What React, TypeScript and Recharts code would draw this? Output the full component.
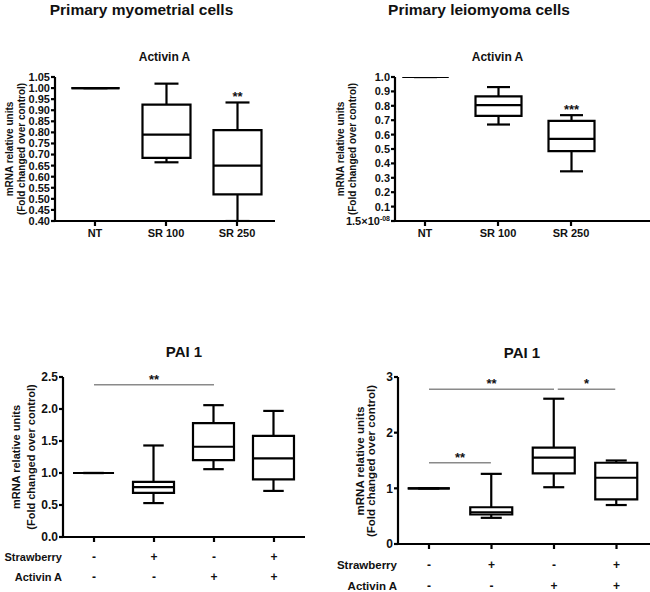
import React from 'react';
import { ComposedChart, Bar, XAxis, YAxis, ReferenceLine } from 'recharts';

const FONT = '"Liberation Sans", Arial, Helvetica, sans-serif';
const INK = '#111';

// Activin A - primary myometrial cells
const activinCats = ['NT', 'SR 100', 'SR 250'];
const myoMin = [1, 0.665, 0.4];
const myoQ1 = [1, 0.685, 0.52];
const myoMed = [1, 0.79, 0.65];
const myoQ3 = [1, 0.925, 0.81];
const myoMax = [1, 1.02, 0.935];
const myoSig = ['', '', '**'];
const myoTicks = [0.4, 0.45, 0.5, 0.55, 0.6, 0.65, 0.7, 0.75, 0.8, 0.85, 0.9, 0.95, 1.0, 1.05];

// Activin A - primary leiomyoma cells
const leioMin = [1, 0.67, 0.345];
const leioQ1 = [1, 0.73, 0.485];
const leioMed = [1, 0.805, 0.57];
const leioQ3 = [1, 0.865, 0.695];
const leioMax = [1, 0.93, 0.735];
const leioSig = ['', '', '***'];
const leioTicks = [0, 0.1, 0.2, 0.3, 0.4, 0.5, 0.6, 0.7, 0.8, 0.9, 1.0];

// PAI 1 - treatments
const strawberry = ['-', '+', '-', '+'];
const activinA = ['-', '-', '+', '+'];

const paiMyoMin = [1, 0.53, 1.06, 0.72];
const paiMyoQ1 = [1, 0.69, 1.2, 0.9];
const paiMyoMed = [1, 0.78, 1.41, 1.23];
const paiMyoQ3 = [1, 0.86, 1.78, 1.58];
const paiMyoMax = [1, 1.43, 2.06, 1.97];
const paiMyoTicks = [0, 0.5, 1, 1.5, 2, 2.5];
const paiMyoBrackets = [{ from: 0, to: 2, y: 2.38, label: '**' }];

const paiLeioMin = [1, 0.47, 1.02, 0.7];
const paiLeioQ1 = [1, 0.53, 1.27, 0.8];
const paiLeioMed = [1, 0.57, 1.55, 1.19];
const paiLeioQ3 = [1, 0.66, 1.73, 1.46];
const paiLeioMax = [1, 1.26, 2.61, 1.5];
const paiLeioTicks = [0, 1, 2, 3];
const paiLeioBrackets = [
  { from: 0, to: 2, y: 2.78, label: '**' },
  { from: 2.06, to: 2.98, y: 2.78, label: '*' },
  { from: 0, to: 0.99, y: 1.46, label: '**' },
];

const noSig = ['', '', '', ''];

type Row = { idx: number; min: number; q1: number; median: number; q3: number; max: number; sig: string };

const toRows = (mn: number[], a: number[], m: number[], b: number[], mx: number[], sig: string[]): Row[] =>
  mn.map((v, i) => ({ idx: i, min: v, q1: a[i], median: m[i], q3: b[i], max: mx[i], sig: sig[i] }));

const BoxShape = (props: any) => {
  const { x, y, width, height, payload } = props;
  const { min, q1, median, q3, max, sig } = payload as Row;
  const span = max - min;
  // linear y scale: the bar spans [min, max]
  const py = (v: number) => (span === 0 ? y : y + ((max - v) / span) * height);
  const cx = x + width / 2;
  const cap = width / 4;
  const top = py(q3);
  const bot = py(q1);
  const s = { stroke: '#000', strokeWidth: 2.2 };
  return (
    <g>
      <line x1={cx} x2={cx} y1={py(max)} y2={top} {...s} />
      <line x1={cx} x2={cx} y1={bot} y2={py(min)} {...s} />
      <line x1={cx - cap} x2={cx + cap} y1={py(max)} y2={py(max)} {...s} />
      <line x1={cx - cap} x2={cx + cap} y1={py(min)} y2={py(min)} {...s} />
      <path d={`M${x},${top}H${x + width}V${bot}H${x}Z`} fill="#fff" {...s} />
      <line x1={x} x2={x + width} y1={py(median)} y2={py(median)} {...s} />
      {sig ? (
        <text x={cx} y={py(max) - 1} textAnchor="middle" fontFamily={FONT} fontWeight="bold" fontSize={13} fill={INK}>
          {sig}
        </text>
      ) : null}
    </g>
  );
};

type Bracket = { from: number; to: number; y: number; label: string };

const BracketShape = (label: string) => (p: any) => (
  <g>
    <line x1={p.x1} y1={p.y1} x2={p.x2} y2={p.y2} stroke="#8a8a8a" strokeWidth={1.6} />
    <text x={(p.x1 + p.x2) / 2} y={p.y1 - 1} textAnchor="middle" fontFamily={FONT} fontWeight="bold" fontSize={13} fill={INK}>
      {label}
    </text>
  </g>
);

type PanelProps = {
  left: number;
  top: number;
  width: number;
  height: number;
  margin: { top: number; right: number; left: number; bottom: number };
  yWidth: number;
  xHeight: number;
  xDomain: [number, number];
  yDomain: [number, number];
  yTicks: number[];
  yFmt: (v: number) => React.ReactNode;
  fontSize: number;
  rows: Row[];
  barSize: number;
  xTick: (p: any) => React.ReactElement;
  brackets?: Bracket[];
};

const Panel = (p: PanelProps) => {
  const axis = { stroke: '#000', strokeWidth: 2.2 };
  return (
    <div style={{ position: 'absolute', left: p.left, top: p.top }}>
      <ComposedChart width={p.width} height={p.height} data={p.rows} margin={p.margin}>
        <XAxis
          dataKey="idx"
          type="number"
          domain={p.xDomain}
          allowDataOverflow
          ticks={p.rows.map((r) => r.idx)}
          interval={0}
          height={p.xHeight}
          axisLine={axis}
          tickLine={axis}
          tickSize={5}
          tick={p.xTick}
        />
        <YAxis
          type="number"
          domain={p.yDomain}
          allowDataOverflow
          ticks={p.yTicks}
          interval={0}
          width={p.yWidth}
          axisLine={axis}
          tickLine={axis}
          tickSize={4}
          tickMargin={1}
          tick={(t: any) => (
            <text x={t.x} y={t.y} dy={p.fontSize * 0.36} textAnchor="end" fontFamily={FONT} fontWeight="bold" fontSize={p.fontSize} fill={INK}>
              {p.yFmt(t.payload.value)}
            </text>
          )}
        />
        <Bar dataKey={(d: Row) => [d.min, d.max]} barSize={p.barSize} shape={BoxShape} isAnimationActive={false} />
        {(p.brackets || []).map((b, i) => (
          <ReferenceLine
            key={i}
            segment={[
              { x: b.from, y: b.y },
              { x: b.to, y: b.y },
            ]}
            shape={BracketShape(b.label)}
          />
        ))}
      </ComposedChart>
    </div>
  );
};

const activinTick = (size: number) => (t: any) => (
  <text x={t.x} y={t.y + 9} textAnchor="middle" fontFamily={FONT} fontWeight="bold" fontSize={size} fill={INK}>
    {activinCats[t.payload.value]}
  </text>
);

const treatTick = (size: number, d1: number, d2: number) => (t: any) => (
  <g fontFamily={FONT} fontWeight="bold" fontSize={size} fill={INK}>
    <text x={t.x} y={t.y + d1} textAnchor="middle">
      {strawberry[t.payload.value]}
    </text>
    <text x={t.x} y={t.y + d2} textAnchor="middle">
      {activinA[t.payload.value]}
    </text>
  </g>
);

const RotLabel = ({ x, y, size, children }: { x: number; y: number; size: number; children: React.ReactNode }) => (
  <text
    transform={`translate(${x},${y}) rotate(-90)`}
    textAnchor="middle"
    dominantBaseline="central"
    fontFamily={FONT}
    fontWeight="bold"
    fontSize={size}
    fill={INK}
  >
    {children}
  </text>
);

const T = ({ x, y, size, anchor = 'middle', children }: { x: number; y: number; size: number; anchor?: string; children: React.ReactNode }) => (
  <text x={x} y={y} textAnchor={anchor as any} fontFamily={FONT} fontWeight="bold" fontSize={size} fill={INK}>
    {children}
  </text>
);

export default function App() {
  return (
    <div style={{ position: 'absolute', left: 0, top: 0, width: 650, height: 592, background: '#fff', overflow: 'hidden' }}>
      <Panel
        left={0}
        top={30}
        width={290}
        height={230}
        margin={{ top: 47, right: 15, left: 0, bottom: 0 }}
        yWidth={55}
        xHeight={39}
        xDomain={[-0.563, 2.535]}
        yDomain={[0.4, 1.05]}
        yTicks={myoTicks}
        yFmt={(v) => v.toFixed(2)}
        fontSize={11}
        rows={toRows(myoMin, myoQ1, myoMed, myoQ3, myoMax, myoSig)}
        barSize={48}
        xTick={activinTick(11)}
      />
      <Panel
        left={325}
        top={30}
        width={325}
        height={230}
        margin={{ top: 47, right: 0, left: 0, bottom: 0 }}
        yWidth={70}
        xHeight={39}
        xDomain={[-0.411, 3.082]}
        yDomain={[0, 1]}
        yTicks={leioTicks}
        yFmt={(v) =>
          v === 0 ? (
            <>
              1.5×10
              <tspan fontSize={7} dy={-4}>
                -08
              </tspan>
            </>
          ) : (
            v.toFixed(1)
          )
        }
        fontSize={11}
        rows={toRows(leioMin, leioQ1, leioMed, leioQ3, leioMax, leioSig)}
        barSize={46}
        xTick={activinTick(11)}
      />
      <Panel
        left={0}
        top={340}
        width={325}
        height={252}
        margin={{ top: 37, right: 20, left: 0, bottom: 0 }}
        yWidth={63}
        xHeight={55}
        xDomain={[-0.517, 3.517]}
        yDomain={[0, 2.5]}
        yTicks={paiMyoTicks}
        yFmt={(v) => v.toFixed(1)}
        fontSize={12}
        rows={toRows(paiMyoMin, paiMyoQ1, paiMyoMed, paiMyoQ3, paiMyoMax, noSig)}
        barSize={41}
        xTick={treatTick(12, 17, 37)}
        brackets={paiMyoBrackets}
      />
      <Panel
        left={325}
        top={340}
        width={325}
        height={252}
        margin={{ top: 37, right: 0, left: 0, bottom: 0 }}
        yWidth={73}
        xHeight={48}
        xDomain={[-0.496, 3.536]}
        yDomain={[0, 3]}
        yTicks={paiLeioTicks}
        yFmt={(v) => String(v)}
        fontSize={12}
        rows={toRows(paiLeioMin, paiLeioQ1, paiLeioMed, paiLeioQ3, paiLeioMax, noSig)}
        barSize={42}
        xTick={treatTick(12, 18, 39)}
        brackets={paiLeioBrackets}
      />
      <svg width={650} height={592} style={{ position: 'absolute', left: 0, top: 0, pointerEvents: 'none' }}>
        <T x={141.5} y={15} size={15.5}>Primary myometrial cells</T>
        <T x={479} y={15} size={15.5}>Primary leiomyoma cells</T>
        <T x={164.5} y={61} size={12}>Activin A</T>
        <T x={497.5} y={61} size={12}>Activin A</T>
        <T x={184} y={357} size={15}>PAI 1</T>
        <T x={522} y={358} size={15}>PAI 1</T>
        <RotLabel x={9.5} y={149} size={10}>mRNA relative units</RotLabel>
        <RotLabel x={21.5} y={149} size={10}>(Fold changed over control)</RotLabel>
        <RotLabel x={340} y={149} size={10}>mRNA relative units</RotLabel>
        <RotLabel x={352} y={149} size={10}>(Fold changed over control)</RotLabel>
        <RotLabel x={15.5} y={457} size={11}>mRNA relative units</RotLabel>
        <RotLabel x={31} y={457} size={11}>(Fold changed over control)</RotLabel>
        <RotLabel x={360} y={461} size={11.5}>mRNA relative units</RotLabel>
        <RotLabel x={371} y={461} size={11.5}>(Fold changed over control)</RotLabel>
        <T x={62} y={561} size={11} anchor="end">Strawberry</T>
        <T x={62} y={581} size={11} anchor="end">Activin A</T>
        <T x={397} y={569} size={11.5} anchor="end">Strawberry</T>
        <T x={397} y={590} size={11.5} anchor="end">Activin A</T>
      </svg>
    </div>
  );
}
